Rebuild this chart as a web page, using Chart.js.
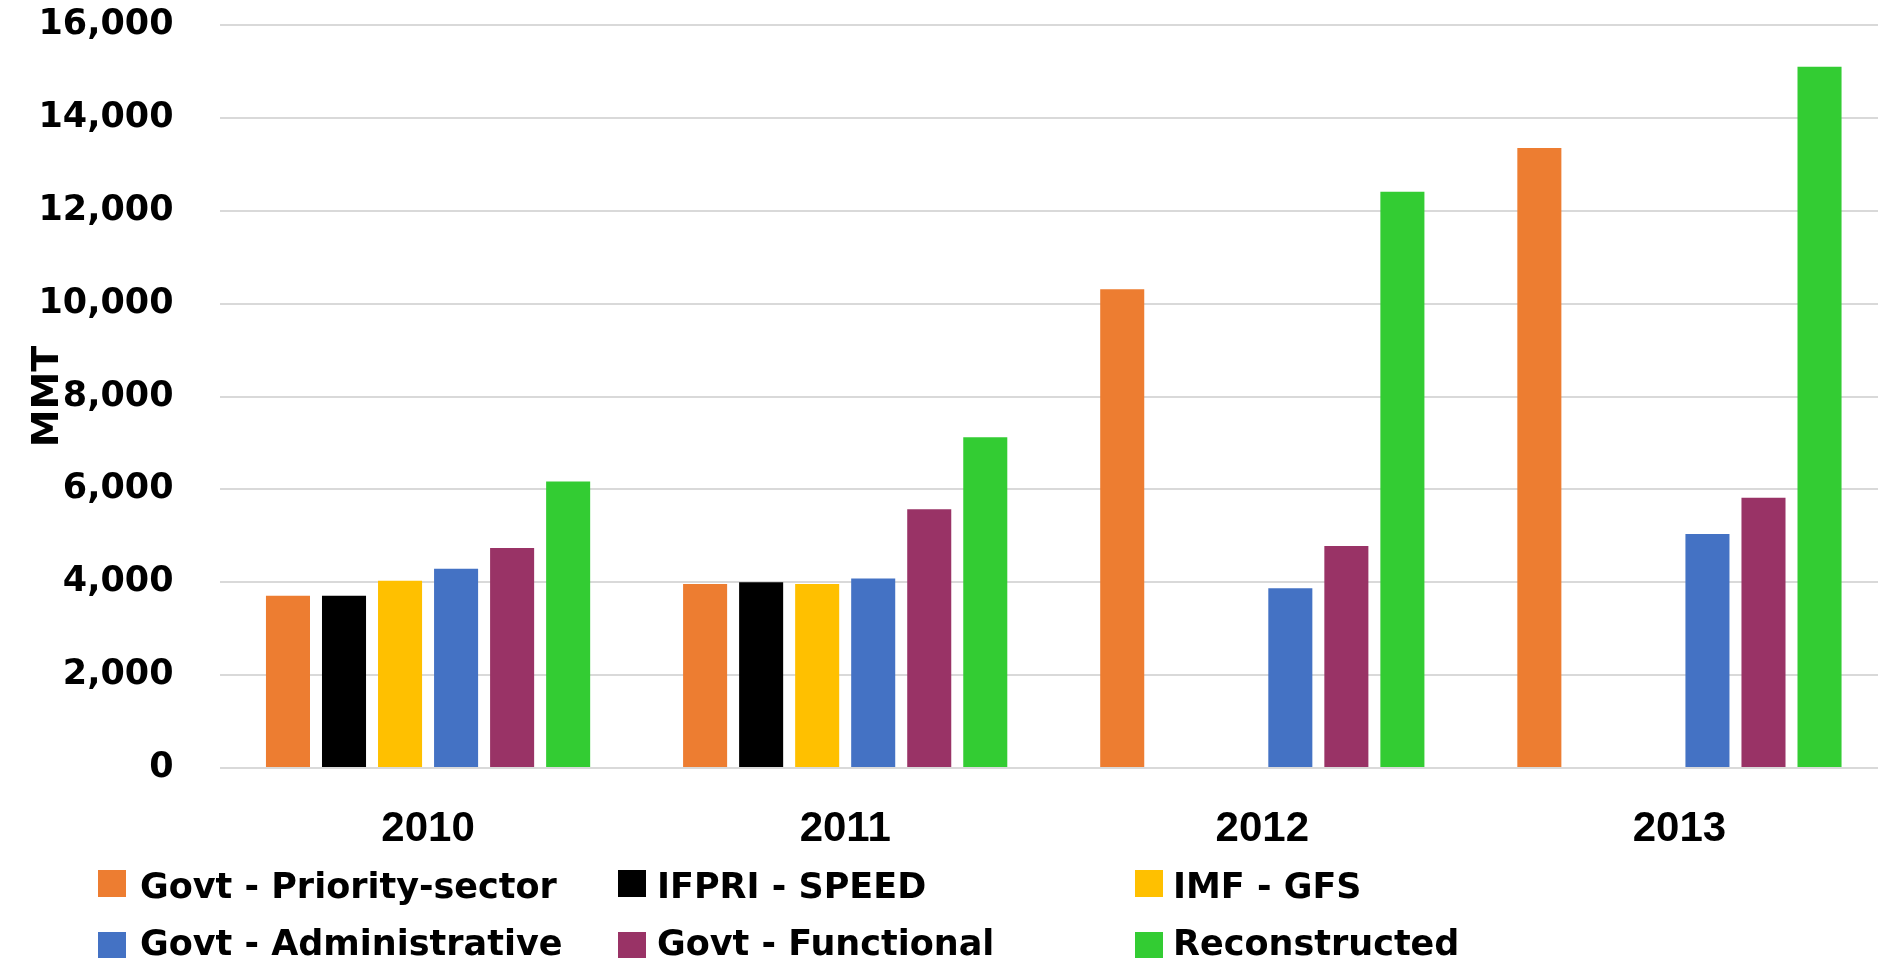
<!DOCTYPE html>
<html>
<head>
<meta charset="utf-8">
<script src="https://cdn.jsdelivr.net/npm/chart.js@4.4.1/dist/chart.umd.min.js"></script>
<style>
  body { margin: 0; background: #fff; overflow: hidden; }
  #wrap { position: relative; width: 1888px; height: 958px; }
  #legend .box { position: absolute; width: 28px; height: 27px; }
  #legend .txt { position: absolute; font-family: "DejaVu Sans"; font-weight: bold; font-size: 35px; line-height: 35px; color: #000; white-space: nowrap; }
</style>
</head>
<body>
<div id="wrap">
  <canvas id="myChart"></canvas>
  <div id="legend"></div>
</div>
<script>
var years = ['2010', '2011', '2012', '2013'];
var seriesNames = ['Govt - Priority-sector', 'IFPRI - SPEED', 'IMF - GFS', 'Govt - Administrative', 'Govt - Functional', 'Reconstructed'];
var seriesColors = ['#ED7D31', '#000000', '#FFC000', '#4472C4', '#993366', '#33CC33'];

var priority = [3710, 3960, 10310, 13350];
var speed = [3710, 4000, null, null];
var gfs = [4030, 3960, null, null];
var administrative = [4290, 4080, 3870, 5040];
var functional = [4740, 5570, 4780, 5820];
var reconstructed = [6170, 7120, 12410, 15100];

var yTicks = [0, 2000, 4000, 6000, 8000, 10000, 12000, 14000, 16000];

var allSeries = [priority, speed, gfs, administrative, functional, reconstructed];

function buildDatasets() {
  var sets = [];
  for (var i = 0; i < allSeries.length; i++) {
    sets.push({
      label: seriesNames[i],
      data: allSeries[i],
      backgroundColor: seriesColors[i],
      borderWidth: 0,
      categoryPercentage: 0.806,
      barPercentage: 0.786
    });
  }
  return sets;
}

// legend laid out in 3 columns like the original
function buildLegend() {
  var legend = document.getElementById('legend');
  var boxX = [98, 618, 1135];
  var textX = [140, 657, 1173];
  var boxY = [870, 932];
  var textY = [869, 926];
  seriesNames.forEach(function (name, i) {
    var col = i % 3;
    var row = Math.floor(i / 3);
    var box = document.createElement('div');
    box.className = 'box';
    box.style.left = boxX[col] + 'px';
    box.style.top = boxY[row] + 'px';
    box.style.background = seriesColors[i];
    legend.append(box);
    var txt = document.createElement('div');
    txt.className = 'txt';
    txt.style.left = textX[col] + 'px';
    txt.style.top = textY[row] + 'px';
    txt.innerText = name;
    legend.append(txt);
  });
}

var ctx = document.getElementById('myChart');

var chart = new Chart(ctx, {
  type: 'bar',
  data: {
    labels: years,
    datasets: buildDatasets()
  },
  options: {
    responsive: true,
    maintainAspectRatio: false,
    animation: false,
    layout: { padding: { top: 25, left: 0, right: 0, bottom: 0 } },
    plugins: {
      legend: { display: false },
      tooltip: { enabled: false }
    },
    scales: {
      x: {
        grid: { display: false },
        border: { display: false },
        ticks: {
          color: '#000',
          padding: 28,
          font: { family: 'Liberation Sans', weight: 'bold', size: 42 }
        },
        afterFit: function (scale) { scale.height = 190; }
      },
      y: {
        min: 0,
        max: 16000,
        afterBuildTicks: function (scale) {
          scale.ticks = yTicks.map(function (v) { return { value: v }; });
        },
        // invisible tick marks keep the labels away from the plot without padding the top
        grid: { color: '#d9d9d9', lineWidth: 2, drawTicks: true, tickLength: 46, tickColor: 'rgba(0,0,0,0)' },
        border: { display: false },
        ticks: {
          color: '#000',
          padding: 0,
          font: { family: 'DejaVu Sans', weight: 'bold', size: 35 },
          callback: function (v) { return v.toLocaleString('en-US'); }
        },
        title: {
          display: true,
          text: 'MMT',
          color: '#000',
          padding: { top: 25, bottom: 0 },
          font: { family: 'DejaVu Sans', weight: 'bold', size: 38 }
        },
        afterFit: function (scale) { scale.width = 219.5; }
      }
    }
  }
});

buildLegend();
</script>
</body>
</html>
